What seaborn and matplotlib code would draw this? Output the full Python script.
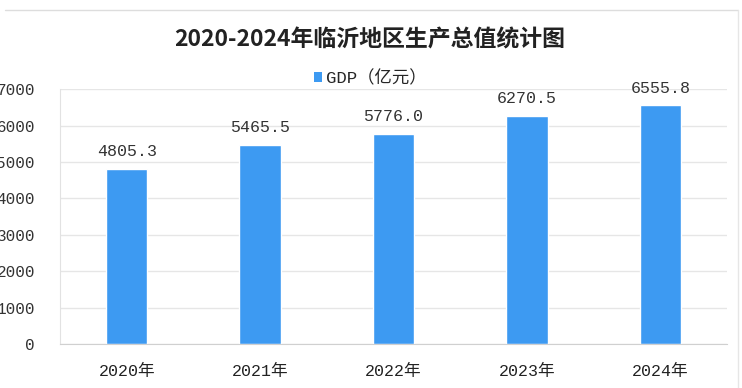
import matplotlib
matplotlib.use("Agg")
import matplotlib.pyplot as plt
import seaborn as sns
import pandas as pd
from matplotlib.lines import Line2D
from matplotlib.patches import Patch

# 数据
years = ["2020年", "2021年", "2022年", "2023年", "2024年"]
gdp = [4805.3, 5465.5, 5776.0, 6270.5, 6555.8]
y_ticks = [0, 1000, 2000, 3000, 4000, 5000, 6000, 7000]

title = "2020-2024年临沂地区生产总值统计图"
series_name = "GDP（亿元）"
bar_color = "#3d9af2"

sns.set_style("white")
plt.rcParams["font.family"] = ["Noto Sans CJK SC", "DejaVu Sans"]
mono = ["Liberation Mono", "Noto Sans CJK SC", "DejaVu Sans"]

df = pd.DataFrame({"year": years, "gdp": gdp})

fig = plt.figure(figsize=(7.42, 3.88), dpi=100)
ax = fig.add_axes([60 / 742, 1 - 344 / 388, (727 - 60) / 742, (344 - 89.3) / 388])

sns.barplot(data=df, x="year", y="gdp", color=bar_color, width=0.31,
            saturation=1, ax=ax)

ax.set_ylim(0, 7000)
ax.set_xlim(-0.5, len(years) - 0.5)
ax.set_yticks(y_ticks)
ax.set_yticklabels([str(v) for v in y_ticks], family=mono, fontsize=11.5, color="#333333")
ax.set_xticks(range(len(years)))
ax.set_xticklabels(years, family=mono, fontsize=12, color="#222222")
ax.set_xticks([i - 0.5 for i in range(len(years) + 1)], minor=True)
ax.tick_params(axis="x", which="major", length=0, pad=14)
ax.tick_params(axis="x", which="minor", length=5, color="#d0d0d0")
ax.tick_params(axis="y", length=7, color="#e2e2e2", pad=11)
ax.set_xlabel("")
ax.set_ylabel("")

ax.grid(axis="y", color="#e6e6e6", linewidth=1)
ax.set_axisbelow(True)
for s in ["top", "right"]:
    ax.spines[s].set_visible(False)
ax.spines["left"].set_color("#e2e2e2")
ax.spines["bottom"].set_color("#d0d0d0")

for c in ax.containers:
    ax.bar_label(c, labels=[f"{v:.1f}" for v in gdp], padding=7,
                 family=mono, fontsize=12, color="#333333")

fig.text(370 / 742, 1 - 40 / 388, title, ha="center", va="center",
         fontsize=16.5, fontweight="bold", color="#222222")

handle = Patch(facecolor=bar_color, edgecolor="none")
fig.legend([handle], [series_name], loc="center", bbox_to_anchor=(370 / 742, 1 - 78 / 388),
           frameon=False, handlelength=0.5, handleheight=0.5, handletextpad=0.2,
           prop={"family": ["Liberation Mono", "Noto Sans CJK SC"], "size": 12.5})

# 外框
fig.add_artist(Line2D([5 / 742, 738 / 742], [1 - 10 / 388, 1 - 10 / 388], color="#dddddd", lw=1))
fig.add_artist(Line2D([738 / 742, 738 / 742], [0, 1 - 10 / 388], color="#e6e6e6", lw=1))

fig.savefig("out.png", dpi=100)
